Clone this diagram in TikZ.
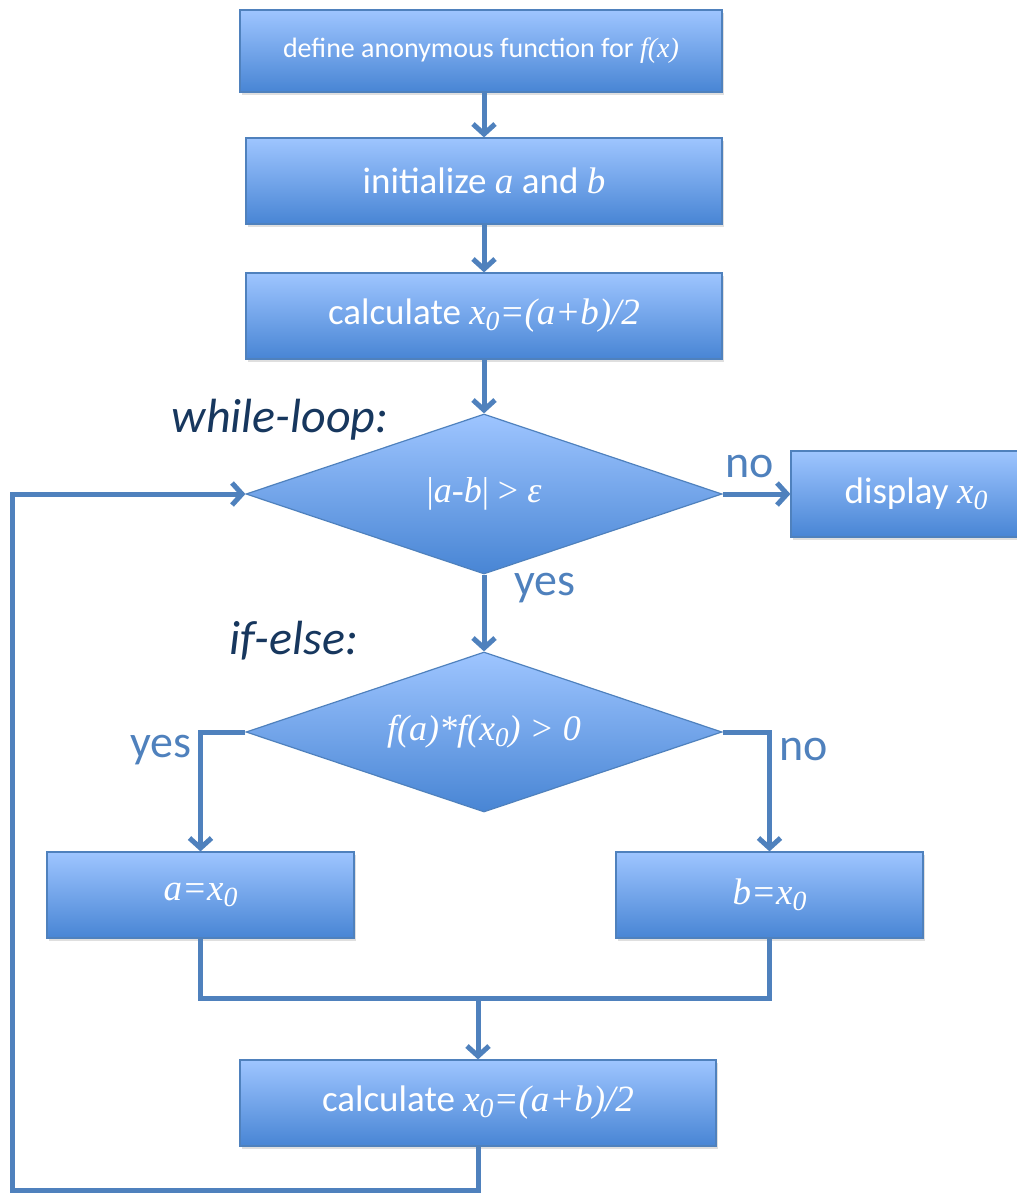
\documentclass[tikz,border=0pt]{standalone}
\usepackage{fontspec}
\setmainfont{Carlito}
\newfontfamily\mathserif{Liberation Serif}
\usetikzlibrary{arrows.meta,shapes.geometric,shadows}
\definecolor{bord}{RGB}{79,129,189}
\definecolor{boxtop}{RGB}{158,197,255}
\definecolor{boxbot}{RGB}{72,133,212}
\definecolor{navy}{RGB}{23,55,94}
\definecolor{lbl}{RGB}{79,129,189}
\newcommand\mv[1]{{\mathserif\itshape #1}}
\newcommand\mup[1]{{\mathserif #1}}
\newcommand\sbs[1]{\raisebox{-0.35ex}{\scalebox{0.75}{#1}}}
\tikzset{
  box/.style={draw=bord, line width=1.2pt, top color=boxtop, bottom color=boxbot,
    text=white, inner sep=0pt, minimum height=86pt, font=\fontsize{37}{40}\selectfont,
    drop shadow={shadow xshift=2pt, shadow yshift=-3pt, opacity=0.25}},
  dia/.style={diamond, draw=bord, line width=1.2pt, top color=boxtop, bottom color=boxbot,
    text=white, inner sep=0pt, minimum width=476pt, minimum height=160pt, aspect=2.975,
    font=\fontsize{36}{40}\selectfont},
  conn/.style={draw=bord, line width=5pt},
  arr/.style={conn, -{Straight Barb[length=10pt,width=22pt,line width=5pt]}},
  lab/.style={text=lbl, font=\fontsize{46}{50}\selectfont, inner sep=0pt},
  head/.style={text=navy, font=\fontsize{48}{52}\selectfont\itshape, inner sep=0pt}
}
\begin{document}
\begin{tikzpicture}[x=1pt,y=-1pt]
\useasboundingbox (0,0) rectangle (1017,1194);
\node[box, minimum width=482pt, minimum height=82pt, font=\fontsize{28}{32}\selectfont] (b1) at (481,51) {define anonymous function for \mv{f(x)}};
\node[box, minimum width=476pt] (b2) at (484,181) {initialize \mv{a} and \mv{b}};
\node[box, minimum width=476pt] (b3) at (484,316) {calculate \mv{x\sbs{0}=(a+b)/2}};
\node[dia] (d1) at (484,494) {\mup{|}\mv{a-b}\mup{| > }\mv{ε}};
\node[box, minimum width=250pt] (dx) at (916,494) {display \mv{x\sbs{0}}};
\node[dia] (d2) at (484,732) {\mv{f(a)*f(x\sbs{0}) > 0}};
\node[box, minimum width=307pt] (ba) at (200.5,895) {\mv{a=x\sbs{0}}};
\node[box, minimum width=307pt] (bb) at (769.5,895) {\mv{b=x\sbs{0}}};
\node[box, minimum width=476pt] (b4) at (478,1103) {calculate \mv{x\sbs{0}=(a+b)/2}};
\node[head] (wl) at (280,420) {while-loop:};
\node[head] (ie) at (294,641) {if-else:};
\node[lab] (no1) at (750,466) {no};
\node[lab] (yes1) at (545,588) {yes};
\node[lab] (yes2) at (161,750) {yes};
\node[lab] (no2) at (804,749) {no};
\coordinate (m) at (b4.north |- 0,998);
\coordinate (lb) at (12,1190);
\draw[arr] (b1.south -| b2.north) -- (b2.north);
\draw[arr] (b2.south) -- (b3.north);
\draw[arr] (b3.south) -- (d1.north);
\draw[arr] (d1.east) -- (dx.west);
\draw[arr] (d1.south) -- (d2.north);
\draw[arr] (d2.west) -| (ba.north);
\draw[arr] (d2.east) -| (bb.north);
\draw[conn] (ba.south) |- (m) -| (bb.south);
\draw[arr] (m) -- (b4.north);
\draw[arr] (b4.south) |- (lb) |- (d1.west);
\end{tikzpicture}
\end{document}
